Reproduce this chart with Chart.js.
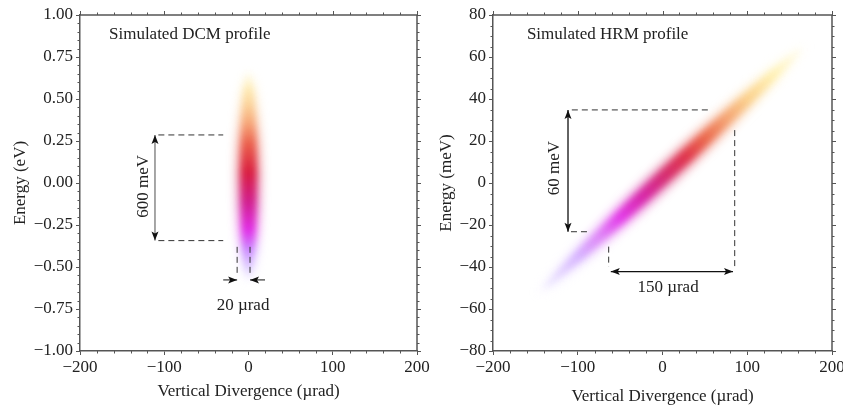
<!DOCTYPE html>
<html>
<head>
<meta charset="utf-8">
<script src="https://cdn.jsdelivr.net/npm/chart.js@4.4.1/dist/chart.umd.min.js"></script>
<style>
    html, body { margin: 0; padding: 0; background: #fff; }
    #wrap { position: relative; width: 843px; height: 412px; overflow: hidden; }
    #dcmChart { position: absolute; left: 0; top: 0; }
    #hrmChart { position: absolute; left: 421px; top: 0; }
</style>
</head>
<body>
<div id="wrap">
    <canvas id="dcmChart" width="440" height="412"></canvas>
    <canvas id="hrmChart" width="422" height="412"></canvas>
</div>
<script>
// ---- shared axis ----
const divTicks = [-200, -100, 0, 100, 200];

// ---- DCM panel (energy in eV) ----
const dcmEnergyTicks = [-1, -0.75, -0.5, -0.25, 0, 0.25, 0.5, 0.75, 1];
const dcmRidgeX = [0, 0];
const dcmRidgeY = [-0.6, 0.68];
const dcmGuideX = [-107, -30];
const dcmGuideY = [0.286, -0.343];
const dcmSpanX = -111;
const dcmSlitX = [-13.5, 1.8];
const dcmSlitY = [-0.38, -0.55];
const dcmPinchY = -0.577;
const dcmPinchFromX = [-30, 19.6];
const dcmNoteText = ["Simulated DCM profile", "600 meV", "20 µrad"];
const dcmNoteX = [-165.6, -125, -6.5];
const dcmNoteY = [0.881, -0.02, -0.732];

// ---- HRM panel (energy in meV) ----
const hrmEnergyTicks = [-80, -60, -40, -20, 0, 20, 40, 60, 80];
const hrmRidgeX = [-150, 172];
const hrmRidgeY = [-54, 67];
const hrmGuideTopX = [-107, 54];
const hrmGuideBotX = [-108, -85.5];
const hrmGuideY = [34.8, -23.2];
const hrmSpanX = -111.5;
const hrmWallX = [-63.5, 85.2];
const hrmWallTopY = [-30.3, 25.2];
const hrmWallBotY = -39.9;
const hrmArrowY = -42.2;
const hrmArrowX = [-61, 83.2];
const hrmNoteText = ["Simulated HRM profile", "60 meV", "150 µrad"];
const hrmNoteX = [-160, -127, 6.5];
const hrmNoteY = [70.5, 7.1, -50];

// colour ramps for the two intensity blobs (low end -> high end)
const dcmRamp = [
    [0.00, "rgba(230,220,255,0)"],
    [0.07, "rgba(215,195,255,0.7)"],
    [0.16, "#c884ff"],
    [0.25, "#e028e6"],
    [0.38, "#d01a8c"],
    [0.52, "#d81a3c"],
    [0.65, "#ea5c48"],
    [0.75, "#f6a676"],
    [0.83, "#fbd096"],
    [0.90, "#fee8ae"],
    [0.96, "rgba(255,245,205,0.55)"],
    [1.00, "rgba(255,250,225,0)"]
];
const hrmRamp = [
    [0.00, "rgba(225,215,255,0)"],
    [0.06, "rgba(222,208,255,0.55)"],
    [0.16, "#d4aeff"],
    [0.24, "#de80f6"],
    [0.31, "#e236e8"],
    [0.39, "#d622a8"],
    [0.47, "#d42870"],
    [0.55, "#de3048"],
    [0.62, "#ea6448"],
    [0.70, "#f4a270"],
    [0.78, "#fbd08a"],
    [0.87, "#fff0b0"],
    [0.96, "rgba(255,248,210,0.45)"],
    [1.00, "rgba(255,250,220,0)"]
];

Chart.defaults.font.family = '"Liberation Serif", "Times New Roman", serif';
Chart.defaults.font.size = 17;
Chart.defaults.color = "#222";

const minus = v => (v < 0 ? "\u2212" : "");
const pts = (xs, ys) => xs.map((x, i) => ({ x, y: ys[i] }));

function seg(xs, ys, color, dash, extra) {
    return Object.assign({
        data: pts(xs, ys),
        borderColor: color,
        borderWidth: 1,
        borderDash: dash,
        pointRadius: 0,
        fill: false,
        tension: 0
    }, extra || {});
}

function drawHead(ctx, from, tip, color) {
    const ang = Math.atan2(tip.y - from.y, tip.x - from.x);
    ctx.save();
    ctx.translate(tip.x, tip.y);
    ctx.rotate(ang);
    ctx.beginPath();
    ctx.moveTo(0, 0);
    ctx.lineTo(-9, -3.5);
    ctx.lineTo(-7, 0);
    ctx.lineTo(-9, 3.5);
    ctx.closePath();
    ctx.fillStyle = color;
    ctx.fill();
    ctx.restore();
}

const blobPlugin = {
    id: "blob",
    beforeDatasetsDraw(chart) {
        const { ctx, chartArea } = chart;
        chart.data.datasets.forEach((ds, i) => {
            if (!ds.blob) return;
            const p = chart.getDatasetMeta(i).data;
            const a = p[0], b = p[p.length - 1];
            const len = Math.hypot(b.x - a.x, b.y - a.y);
            ds.blob.layers.forEach(layer => {
                ctx.save();
                ctx.beginPath();
                ctx.rect(chartArea.left, chartArea.top, chartArea.width, chartArea.height);
                ctx.clip();
                ctx.translate((a.x + b.x) / 2, (a.y + b.y) / 2);
                ctx.rotate(Math.atan2(b.y - a.y, b.x - a.x));
                const g = ctx.createLinearGradient(-len / 2, 0, len / 2, 0);
                ds.blob.ramp.forEach(([t, c]) => g.addColorStop(t, c));
                ctx.fillStyle = g;
                ctx.globalAlpha = layer.alpha;
                ctx.filter = "blur(" + layer.blur + "px)";
                ctx.beginPath();
                ctx.ellipse(0, 0, len / 2 * layer.stretch, layer.half, 0, 0, Math.PI * 2);
                ctx.fill();
                ctx.restore();
            });
        });
    },
    afterDatasetsDraw(chart) {
        const ctx = chart.ctx;
        chart.data.datasets.forEach((ds, i) => {
            if (!ds.heads) return;
            const p = chart.getDatasetMeta(i).data;
            drawHead(ctx, p[0], p[1], ds.headColor);
            if (ds.heads === "both") drawHead(ctx, p[1], p[0], ds.headColor);
        });
    }
};

const notesPlugin = {
    id: "notes",
    afterDatasetsDraw(chart, args, opts) {
        const { ctx, scales: { x, y } } = chart;
        ctx.save();
        ctx.fillStyle = "#222";
        ctx.font = '17px "Liberation Serif", "Times New Roman", serif';
        ctx.textBaseline = "middle";
        opts.text.forEach((t, i) => {
            ctx.save();
            ctx.translate(x.getPixelForValue(opts.x[i]), y.getPixelForValue(opts.y[i]));
            ctx.rotate(opts.rotate[i] * Math.PI / 180);
            ctx.textAlign = opts.align[i];
            ctx.fillText(t, 0, 0);
            ctx.restore();
        });
        ctx.restore();
    }
};

// top/right frame, ticks on the far sides and minor ticks
const framePlugin = {
    id: "frame",
    afterDraw(chart, args, opts) {
        const { ctx, chartArea: { left, right, top, bottom }, scales: { x, y } } = chart;
        ctx.save();
        ctx.strokeStyle = "#555";
        ctx.lineWidth = 1.5;
        ctx.beginPath();
        ctx.moveTo(left, top);
        ctx.lineTo(right, top);
        ctx.lineTo(right, bottom);
        ctx.stroke();
        ctx.lineWidth = 1;
        ctx.beginPath();
        for (let v = x.min; v <= x.max + 1e-9; v += opts.minorX) {
            const px = Math.round(x.getPixelForValue(v)) + 0.5;
            const major = x.ticks.some(t => Math.abs(t.value - v) < 1e-9);
            const len = major ? 4 : 2.5;
            ctx.moveTo(px, top); ctx.lineTo(px, top - len);
            if (!major) { ctx.moveTo(px, bottom); ctx.lineTo(px, bottom + len); }
        }
        for (let v = y.min; v <= y.max + 1e-9; v += opts.minorY) {
            const py = Math.round(y.getPixelForValue(v)) + 0.5;
            const major = y.ticks.some(t => Math.abs(t.value - v) < 1e-6);
            const len = major ? 4 : 2.5;
            ctx.moveTo(right, py); ctx.lineTo(right + len, py);
            if (!major) { ctx.moveTo(left, py); ctx.lineTo(left - len, py); }
        }
        ctx.stroke();
        ctx.restore();
    }
};

function axes(yTicks, yTitle, yFmt, yWidth, xHeight) {
    const grid = { drawOnChartArea: false, drawTicks: true, tickLength: 4, color: "#555" };
    const border = { color: "#555", width: 1.5 };
    return {
        x: {
            type: "linear", min: -200, max: 200,
            afterBuildTicks: s => { s.ticks = divTicks.map(v => ({ value: v })); },
            ticks: { padding: 2, maxRotation: 0, callback: v => minus(v) + Math.abs(v) },
            grid, border,
            title: { display: true, text: "Vertical Divergence (µrad)", padding: { top: 4, bottom: 4 } },
            afterFit: s => { s.height = xHeight; s.paddingLeft = 0; s.paddingRight = 0; }
        },
        y: {
            type: "linear", min: yTicks[0], max: yTicks[yTicks.length - 1],
            afterBuildTicks: s => { s.ticks = yTicks.map(v => ({ value: v })); },
            ticks: { padding: 3, callback: v => minus(v) + yFmt(Math.abs(v)) },
            grid, border,
            title: { display: true, text: yTitle, padding: { top: 4, bottom: 4 } },
            afterFit: s => { s.width = yWidth; s.paddingTop = 0; s.paddingBottom = 0; }
        }
    };
}

new Chart(document.getElementById("dcmChart"), {
    type: "line",
    data: {
        datasets: [
            { data: pts(dcmRidgeX, dcmRidgeY), showLine: false, pointRadius: 0,
              blob: { ramp: dcmRamp, layers: [
                  { half: 12.5, blur: 5, alpha: 0.5, stretch: 1.03 },
                  { half: 7.5, blur: 3, alpha: 0.95, stretch: 0.97 }
              ] } },
            seg(dcmGuideX, [dcmGuideY[0], dcmGuideY[0]], "#333", [6, 4]),
            seg(dcmGuideX, [dcmGuideY[1], dcmGuideY[1]], "#333", [6, 4]),
            seg([dcmSlitX[0], dcmSlitX[0]], dcmSlitY, "#333", [6, 4]),
            seg([dcmSlitX[1], dcmSlitX[1]], dcmSlitY, "#333", [6, 4]),
            seg([dcmSpanX, dcmSpanX], dcmGuideY, "#777", [], { borderWidth: 1.3, heads: "both", headColor: "#111" }),
            seg([dcmPinchFromX[0], dcmSlitX[0]], [dcmPinchY, dcmPinchY], "#111", [], { heads: "end", headColor: "#111" }),
            seg([dcmPinchFromX[1], dcmSlitX[1]], [dcmPinchY, dcmPinchY], "#111", [], { heads: "end", headColor: "#111" })
        ]
    },
    options: {
        responsive: false,
        animation: false,
        devicePixelRatio: 1,
        layout: { padding: { left: 6, right: 23, top: 15, bottom: 6 } },
        scales: axes(dcmEnergyTicks, "Energy (eV)", v => v.toFixed(2), 74, 55),
        plugins: {
            legend: { display: false },
            tooltip: { enabled: false },
            notes: { text: dcmNoteText, x: dcmNoteX, y: dcmNoteY, rotate: [0, -90, 0], align: ["left", "center", "center"] },
            frame: { minorX: 20, minorY: 0.05 }
        }
    },
    plugins: [blobPlugin, notesPlugin, framePlugin]
});

new Chart(document.getElementById("hrmChart"), {
    type: "line",
    data: {
        datasets: [
            { data: pts(hrmRidgeX, hrmRidgeY), showLine: false, pointRadius: 0,
              blob: { ramp: hrmRamp, layers: [
                  { half: 11.5, blur: 5, alpha: 0.5, stretch: 1 },
                  { half: 6.5, blur: 3, alpha: 0.95, stretch: 0.95 }
              ] } },
            seg(hrmGuideTopX, [hrmGuideY[0], hrmGuideY[0]], "#333", [6, 4]),
            seg(hrmGuideBotX, [hrmGuideY[1], hrmGuideY[1]], "#333", [6, 4]),
            seg([hrmWallX[0], hrmWallX[0]], [hrmWallTopY[0], hrmWallBotY], "#333", [6, 4]),
            seg([hrmWallX[1], hrmWallX[1]], [hrmWallTopY[1], hrmWallBotY], "#333", [6, 4]),
            seg([hrmSpanX, hrmSpanX], hrmGuideY, "#111", [], { borderWidth: 1.3, heads: "both", headColor: "#111" }),
            seg(hrmArrowX, [hrmArrowY, hrmArrowY], "#111", [], { borderWidth: 1.3, heads: "both", headColor: "#111" })
        ]
    },
    options: {
        responsive: false,
        animation: false,
        devicePixelRatio: 1,
        layout: { padding: { left: 11, right: 11, top: 15, bottom: 1 } },
        scales: axes(hrmEnergyTicks, "Energy (meV)", v => String(v), 61, 60),
        plugins: {
            legend: { display: false },
            tooltip: { enabled: false },
            notes: { text: hrmNoteText, x: hrmNoteX, y: hrmNoteY, rotate: [0, -90, 0], align: ["left", "center", "center"] },
            frame: { minorX: 20, minorY: 5 }
        }
    },
    plugins: [blobPlugin, notesPlugin, framePlugin]
});
</script>
</body>
</html>
